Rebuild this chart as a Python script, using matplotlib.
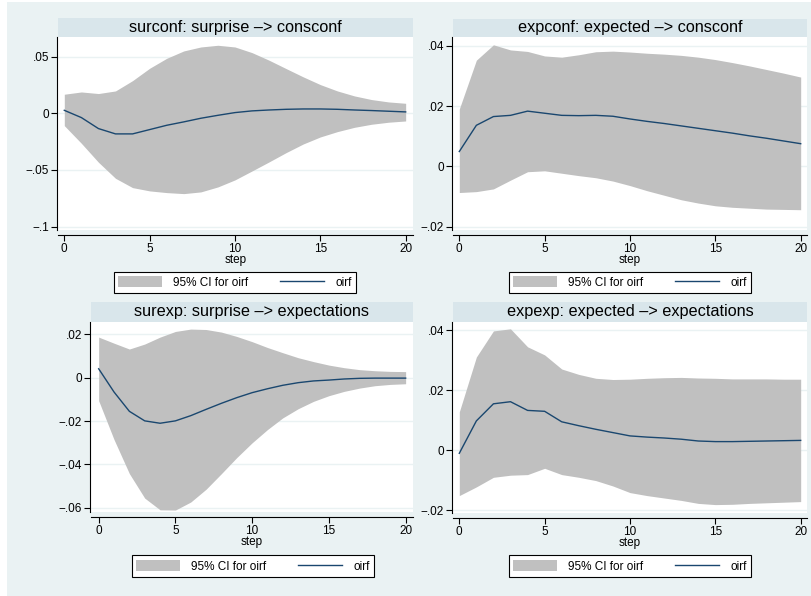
import matplotlib
matplotlib.use('Agg')
import matplotlib.pyplot as plt
from matplotlib.patches import Rectangle, Patch
from matplotlib.lines import Line2D

plt.rcParams['font.family'] = ['Liberation Sans', 'DejaVu Sans']

steps = list(range(21))

# surconf: surprise -> consconf
surconf_oirf = [0.0026, -0.0038, -0.0135, -0.0182, -0.0182, -0.0144, -0.0106, -0.0076, -0.0044, -0.0018,
                0.0006, 0.0021, 0.0029, 0.0035, 0.0038, 0.0038, 0.0035, 0.0029, 0.0024, 0.0018, 0.0012]
surconf_upper = [0.0168, 0.0188, 0.0174, 0.0197, 0.0288, 0.0397, 0.0485, 0.0550, 0.0585, 0.0600,
                 0.0585, 0.0535, 0.0468, 0.0394, 0.0321, 0.0253, 0.0197, 0.0153, 0.0121, 0.0100, 0.0088]
surconf_lower = [-0.0109, -0.0265, -0.0432, -0.0574, -0.0656, -0.0685, -0.0700, -0.0709, -0.0694, -0.0650,
                 -0.0588, -0.0509, -0.0429, -0.0347, -0.0271, -0.0209, -0.0162, -0.0124, -0.0097, -0.0079, -0.0068]

# expconf: expected -> consconf
expconf_oirf = [0.0049, 0.0136, 0.0165, 0.0169, 0.0183, 0.0176, 0.0169, 0.0168, 0.0169, 0.0166,
                0.0157, 0.0149, 0.0142, 0.0134, 0.0126, 0.0118, 0.0110, 0.0101, 0.0093, 0.0084, 0.0075]
expconf_upper = [0.0190, 0.0352, 0.0403, 0.0386, 0.0381, 0.0366, 0.0362, 0.0370, 0.0380, 0.0382,
                 0.0379, 0.0375, 0.0372, 0.0368, 0.0362, 0.0354, 0.0344, 0.0333, 0.0321, 0.0309, 0.0296]
expconf_lower = [-0.0087, -0.0084, -0.0075, -0.0046, -0.0018, -0.0015, -0.0023, -0.0031, -0.0038, -0.0049,
                 -0.0064, -0.0081, -0.0096, -0.0111, -0.0122, -0.0131, -0.0136, -0.0139, -0.0142, -0.0143, -0.0144]

# surexp: surprise -> expectations
surexp_oirf = [0.0041, -0.0066, -0.0155, -0.0199, -0.0210, -0.0199, -0.0175, -0.0146, -0.0118, -0.0092,
               -0.0069, -0.0051, -0.0035, -0.0023, -0.0015, -0.0011, -0.0006, -0.0003, -0.0002, -0.0002, -0.0002]
surexp_upper = [0.0187, 0.0159, 0.0132, 0.0155, 0.0187, 0.0213, 0.0224, 0.0222, 0.0210, 0.0190,
                0.0166, 0.0139, 0.0115, 0.0092, 0.0074, 0.0058, 0.0046, 0.0037, 0.0032, 0.0029, 0.0028]
surexp_lower = [-0.0106, -0.0285, -0.0442, -0.0555, -0.0609, -0.0610, -0.0573, -0.0514, -0.0442, -0.0368,
                -0.0300, -0.0239, -0.0185, -0.0143, -0.0109, -0.0083, -0.0063, -0.0048, -0.0037, -0.0031, -0.0028]

# expexp: expected -> expectations
expexp_oirf = [-0.0010, 0.0098, 0.0155, 0.0162, 0.0133, 0.0130, 0.0095, 0.0082, 0.0070, 0.0059,
               0.0048, 0.0044, 0.0041, 0.0037, 0.0031, 0.0029, 0.0029, 0.0030, 0.0031, 0.0032, 0.0033]
expexp_upper = [0.0128, 0.0311, 0.0398, 0.0405, 0.0345, 0.0318, 0.0271, 0.0253, 0.0240, 0.0236,
                0.0237, 0.0240, 0.0242, 0.0243, 0.0241, 0.0240, 0.0238, 0.0238, 0.0238, 0.0237, 0.0237]
expexp_lower = [-0.0151, -0.0122, -0.0090, -0.0083, -0.0081, -0.0060, -0.0081, -0.0090, -0.0101, -0.0119,
                -0.0141, -0.0151, -0.0159, -0.0167, -0.0177, -0.0181, -0.0180, -0.0177, -0.0175, -0.0173, -0.0171]

titles = ["surconf: surprise \u2013> consconf", "expconf: expected \u2013> consconf",
          "surexp: surprise \u2013> expectations", "expexp: expected \u2013> expectations"]
xticks = [0, 5, 10, 15, 20]
yticks_list = [[-0.1, -0.05, 0, 0.05], [-0.02, 0, 0.02, 0.04],
               [-0.06, -0.04, -0.02, 0, 0.02], [-0.02, 0, 0.02, 0.04]]
ytick_labels = [["\u2212.1", "\u2212.05", "0", ".05"], ["\u2212.02", "0", ".02", ".04"],
                ["\u2212.06", "\u2212.04", "\u2212.02", "0", ".02"], ["\u2212.02", "0", ".02", ".04"]]
legend_labels = ["95% CI for oirf", "oirf"]
xlabel = "step"

series = [(surconf_oirf, surconf_lower, surconf_upper), (expconf_oirf, expconf_lower, expconf_upper),
          (surexp_oirf, surexp_lower, surexp_upper), (expexp_oirf, expexp_lower, expexp_upper)]

# layout in pixels: (x0, y0, x1, y1) of white plot region, band top, xlim, ylim, legend center
layouts = [
    dict(box=(58, 37, 413, 230), band=18.3, xlim=(-0.369, 20.43), ylim=(-0.1030, 0.0673), leg=(235, 282.5)),
    dict(box=(453, 37, 807, 230), band=18.8, xlim=(-0.369, 20.37), ylim=(-0.02113, 0.04289), leg=(630, 282.5)),
    dict(box=(91, 321.7, 413, 512), band=302, xlim=(-0.50, 20.48), ylim=(-0.0619, 0.0258), leg=(253, 566.3)),
    dict(box=(453, 321.7, 807, 513), band=302, xlim=(-0.369, 20.37), ylim=(-0.0209, 0.04287), leg=(630, 566.3)),
]

BG = '#EAF2F3'
BAND = '#D9E6EB'
FILL = '#C0C0C0'
NAVY = '#1A476F'

W, H = 811, 596
fig = plt.figure(figsize=(W / 100, H / 100), dpi=100, facecolor='white')
fig.patches.append(Rectangle((7 / W, 0), 1 - 7 / W, 1 - 2 / H, transform=fig.transFigure,
                             facecolor=BG, edgecolor='none', zorder=-10))

for i in range(4):
    L = layouts[i]
    x0, y0, x1, y1 = L['box']
    ax = fig.add_axes([x0 / W, 1 - y1 / H, (x1 - x0) / W, (y1 - y0) / H])
    ax.set_facecolor('white')
    oirf, lo, up = series[i]
    ax.fill_between(steps, lo, up, color=FILL, linewidth=0, zorder=2)
    ax.plot(steps, oirf, color=NAVY, lw=1.0, zorder=3)
    ax.set_xlim(*L['xlim'])
    ax.set_ylim(*L['ylim'])
    ax.set_xticks(xticks)
    ax.set_xticklabels([str(t) for t in xticks])
    ax.set_yticks(yticks_list[i])
    ax.set_yticklabels(ytick_labels[i])
    ax.yaxis.grid(True, color=BG, lw=1.0, zorder=1)
    ax.set_axisbelow(True)
    for s in ['top', 'right']:
        ax.spines[s].set_visible(False)
    ax.spines['bottom'].set_position(('outward', 3.6))
    ax.spines['left'].set_position(('outward', 0.7))
    for s in ['bottom', 'left']:
        ax.spines[s].set_linewidth(0.8)
        ax.spines[s].set_color('black')
    ax.tick_params(direction='out', length=4.3, width=0.8, colors='black', labelsize=8.5, pad=1.5)
    ax.set_xlabel(xlabel, fontsize=8.5, labelpad=-0.5)

    # title band
    bt = L['band']
    fig.patches.append(Rectangle((x0 / W, 1 - y0 / H), (x1 - x0) / W, (y0 - bt) / H,
                                 transform=fig.transFigure, facecolor=BAND, edgecolor='none', zorder=-5))
    fig.text((x0 + x1) / 2 / W, 1 - (y0 + bt) / 2 / H, titles[i], ha='center', va='center',
             fontsize=11.7, color='black')

    handles = [Patch(facecolor=FILL, edgecolor='none', label=legend_labels[0]),
               Line2D([], [], color=NAVY, lw=1.0, label=legend_labels[1])]
    cx, cy = L['leg']
    leg = ax.legend(handles=handles, loc='center', bbox_to_anchor=(cx / W, 1 - cy / H),
                    bbox_transform=fig.transFigure, ncol=2, fontsize=8.5, handlelength=3.73,
                    handleheight=1.1, handletextpad=0.93, columnspacing=2.7, borderpad=0.38,
                    frameon=True, fancybox=False, edgecolor='black', framealpha=1)
    leg.get_frame().set_linewidth(0.8)

fig.savefig('out.png', dpi=100, facecolor=fig.get_facecolor())
